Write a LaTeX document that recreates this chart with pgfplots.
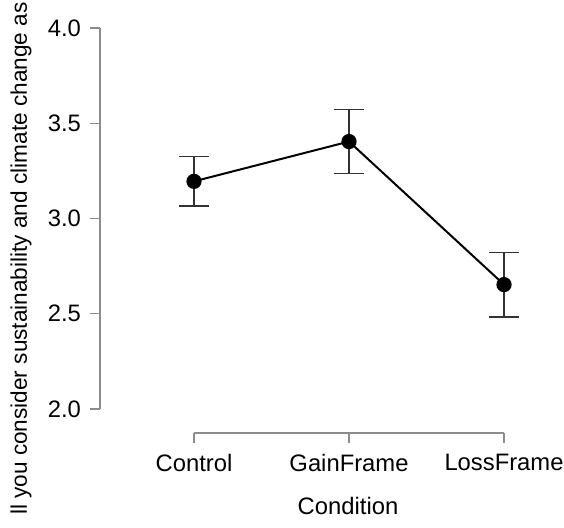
\documentclass[border=0pt]{standalone}
\usepackage{fontspec}
\setmainfont{Liberation Sans}
\usepackage{pgfplots}
\pgfplotsset{compat=1.18}
\definecolor{axgray}{RGB}{140,140,140}
\definecolor{errgray}{RGB}{50,50,50}

\begin{document}
\begin{tikzpicture}
\begin{axis}[
  scale only axis, width=232pt, height=216.5pt,
  xmin=0.3935, xmax=3.387, ymin=1.874, ymax=4.147,
  clip=false,
  axis x line*=bottom, axis y line*=left,
  axis line style={draw=none},
  tick align=outside, major tick length=5pt,
  tick style={axgray, line width=0.6pt},
  xtick={1,2,3}, xticklabels={Control,GainFrame,LossFrame},
  ytick={2,2.5,3,3.5,4},
  yticklabel style={/pgf/number format/fixed,/pgf/number format/fixed zerofill,/pgf/number format/precision=1, xshift=-1pt},
  xticklabel style={yshift=-2pt},
  /pgf/number format/assume math mode=true,
  every tick label/.append style={font=\fontsize{11.9}{14}\selectfont},
  label style={font=\fontsize{11.9}{14}\selectfont},
  xlabel={Condition},
  xlabel style={at={(ticklabel cs:0.5345)}, anchor=near ticklabel, yshift=-6pt},
  ylabel={ll you consider sustainability and climate change as important},
  ylabel style={at={(axis cs:-0.0774,1.4068)}, anchor=base west, font=\fontsize{11.3}{13}\selectfont},
]
\addplot[black, line width=1pt, mark=*, mark size=3.3pt,
  error bars/.cd, y dir=both, y explicit,
  error bar style={errgray, line width=0.7pt},
  error mark options={errgray, line width=0.7pt, mark size=7.5pt, rotate=90}]
  coordinates {
    (1,3.195) +- (0,0.130)
    (2,3.404) +- (0,0.168)
    (3,2.653) +- (0,0.170)
  };
\draw[axgray, line width=0.6pt] (axis cs:0.3935,2) -- (axis cs:0.3935,4);
\draw[axgray, line width=0.6pt] (axis cs:1,1.874) -- (axis cs:3,1.874);
\coordinate (bl) at (axis cs:-0.2516,1.3806);
\coordinate (tr) at (axis cs:3.387,4.147);
\end{axis}
\pgfresetboundingbox
\useasboundingbox (bl) rectangle (tr);
\end{tikzpicture}
\end{document}
